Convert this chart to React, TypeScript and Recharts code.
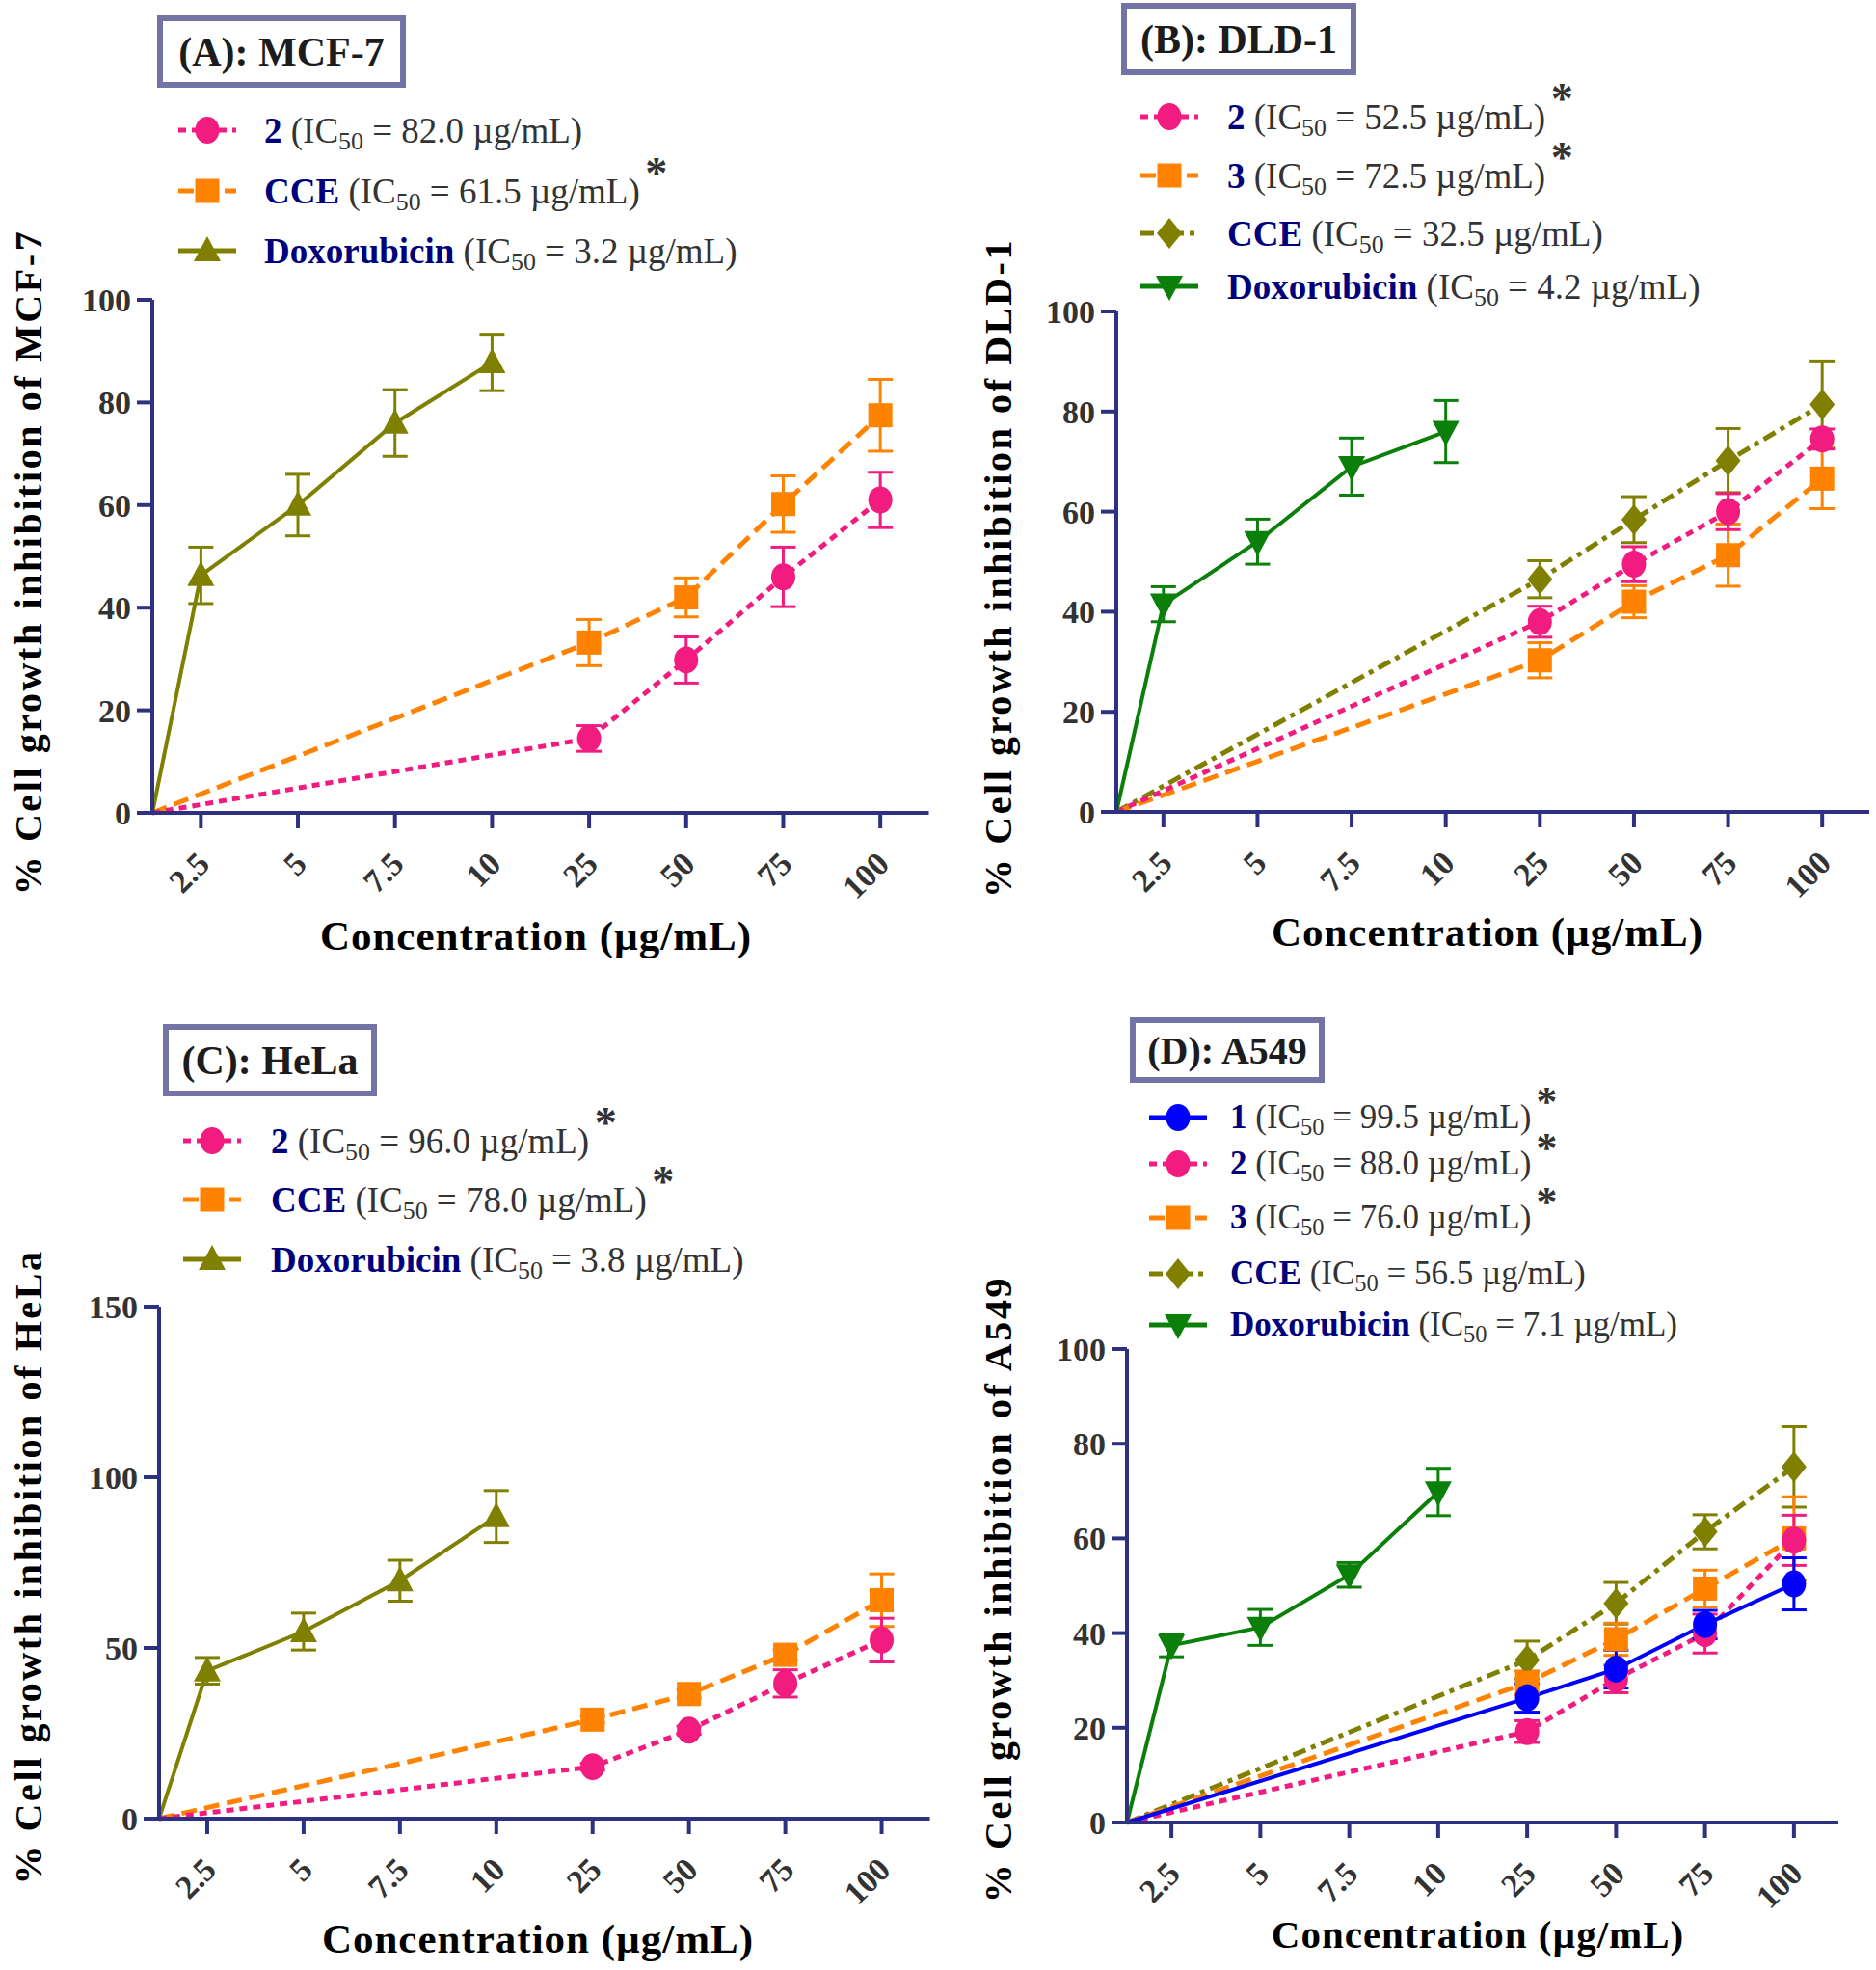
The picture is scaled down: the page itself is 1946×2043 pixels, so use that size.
import { ErrorBar, Line, LineChart, XAxis, YAxis } from "recharts"

// concentration categories (µg/mL), drawn at index positions 1..8
const concLabels = ["2.5", "5", "7.5", "10", "25", "50", "75", "100"]
const doxDoses = ["2.5", "5", "7.5", "10"]
const testDoses = ["25", "50", "75", "100"]

// (A) MCF-7
const mcfDox = [46.3, 60, 76, 87.8]
const mcfDoxErr = [5.5, 6, 6.5, 5.5]
const mcfCce = [33.2, 42, 60.2, 77.5]
const mcfCceErr = [4.5, 3.8, 5.5, 7]
const mcfCmp2 = [14.5, 29.8, 46, 61]
const mcfCmp2Err = [2.5, 4.5, 5.8, 5.4]

// (B) DLD-1
const dldDox = [41.5, 54, 69, 76]
const dldDoxErr = [3.5, 4.5, 5.7, 6.2]
const dldCce = [46.5, 58.4, 70.2, 81.4]
const dldCceErr = [3.7, 4.6, 6.4, 8.7]
const dldCmp2 = [38, 49.5, 60, 74.5]
const dldCmp2Err = [3.1, 3.5, 3.6, 2]
const dldCmp3 = [30.3, 42, 51.3, 66.6]
const dldCmp3Err = [3.5, 3.2, 6.2, 6]

// (C) HeLa
const helaDox = [43.3, 54.8, 69.7, 88.5]
const helaDoxErr = [3.9, 5.4, 6, 7.6]
const helaCce = [29, 36.5, 48, 64]
const helaCceErr = [1, 1.2, 1.5, 7.7]
const helaCmp2 = [15.2, 25.9, 39.6, 52.3]
const helaCmp2Err = [1, 1.2, 4, 6.4]

// (D) A549
const a549Dox = [37.4, 41.2, 52.3, 69.8]
const a549DoxErr = [2.4, 3.8, 2.6, 5]
const a549Cce = [34.3, 46.3, 61.4, 75.1]
const a549CceErr = [4, 4.4, 3.6, 8.5]
const a549Cmp3 = [29.5, 38.7, 49.4, 60]
const a549Cmp3Err = [2.5, 3.4, 3.9, 8.8]
const a549Cmp2 = [19.2, 30.3, 39.9, 59.6]
const a549Cmp2Err = [2.3, 2.9, 4.1, 5.3]
const a549Cmp1 = [26.3, 32.4, 41.8, 50.4]
const a549Cmp1Err = [3, 4, 3, 5.5]

const yTicks100 = [0, 20, 40, 60, 80, 100]
const yTicks150 = [0, 50, 100, 150]

const SERIF = '"Liberation Serif", "Times New Roman", serif'
const AXIS = "#2d3180"
const TICK = "#333333"
const NAVY = "#00007c"
const PINK = "#f21c80"
const ORANGE = "#ff8200"
const OLIVE = "#808000"
const GREEN = "#0a800a"
const BLUE = "#0000ff"

const DOTTED = "8 6"
const DASHED = "16 8"
const DASHDOT = "14 6 5 6"

type Shape = "circle" | "square" | "triangle" | "triangleDown" | "diamond"

interface Series {
  name: string
  ic50: string
  star?: boolean
  color: string
  dash?: string
  shape: Shape
  doses: string[]
  values: number[]
  errors: number[]
}

function toPoints(doses: string[], values: number[], errors: number[]) {
  // every curve starts at the origin of the axes
  return [
    { x: 0.5, y: 0, e: 0 },
    ...doses.map((d, i) => ({ x: concLabels.indexOf(d) + 1, y: values[i], e: errors[i] })),
  ]
}

function Marker({ shape, cx, cy, color, s = 1 }: { shape: Shape; cx: number; cy: number; color: string; s?: number }) {
  if (shape === "circle") return <ellipse cx={cx} cy={cy} rx={12.5 * s} ry={14 * s} fill={color} />
  if (shape === "square")
    return <rect x={cx - 12.5 * s} y={cy - 12.5 * s} width={25 * s} height={25 * s} fill={color} />
  if (shape === "triangle")
    return (
      <polygon
        points={`${cx},${cy - 15 * s} ${cx + 14 * s},${cy + 11 * s} ${cx - 14 * s},${cy + 11 * s}`}
        fill={color}
      />
    )
  if (shape === "triangleDown")
    return (
      <polygon
        points={`${cx - 14 * s},${cy - 11 * s} ${cx + 14 * s},${cy - 11 * s} ${cx},${cy + 15 * s}`}
        fill={color}
      />
    )
  return (
    <polygon
      points={`${cx},${cy - 16 * s} ${cx + 13 * s},${cy} ${cx},${cy + 16 * s} ${cx - 13 * s},${cy}`}
      fill={color}
    />
  )
}

const XTick = (props: any) => {
  const { x, y, payload } = props
  return (
    <text
      x={0}
      y={0}
      transform={`translate(${x + 11},${y + 37}) rotate(-45)`}
      textAnchor="end"
      fill={TICK}
      fontSize={34}
      fontWeight="bold"
      fontFamily={SERIF}
    >
      {concLabels[payload.value - 1]}
    </text>
  )
}

function LegendRow({ s, left, cy, fontSize, textLeft }: { s: Series; left: number; cy: number; fontSize: number; textLeft: number }) {
  return (
    <div
      style={{
        position: "absolute",
        left,
        top: cy - 20,
        height: 40,
        display: "flex",
        alignItems: "center",
        whiteSpace: "nowrap",
        fontFamily: SERIF,
        fontSize,
      }}
    >
      <svg width={60} height={40} style={{ flex: "none" }}>
        <line x1={0} y1={20} x2={60} y2={20} stroke={s.color} strokeWidth={5} strokeDasharray={s.dash} />
        <Marker shape={s.shape} cx={30} cy={20} color={s.color} s={1} />
      </svg>
      <span style={{ marginLeft: textLeft - left - 60, position: "relative" }}>
        <b style={{ color: NAVY }}>{s.name}</b>
        <span style={{ color: TICK }}>
          {" "}
          (IC<span style={{ fontSize: "0.7em", position: "relative", top: "0.3em" }}>50</span> = {s.ic50} µg/mL)
        </span>
        {s.star && (
          <span
            style={{
              position: "absolute",
              right: "-0.62em",
              top: "-0.42em",
              fontSize: "1.25em",
              fontWeight: "bold",
              color: TICK,
              lineHeight: 1,
            }}
          >
            *
          </span>
        )}
      </span>
    </div>
  )
}

interface PanelProps {
  title: string
  box: { x: number; y: number; w: number; h: number; font: number }
  plot: { l: number; r: number; t: number; b: number }
  yMax: number
  yTicks: number[]
  yLabel: string
  yLabelPos: { x: number; y: number }
  xLabelPos: { x: number; y: number; font: number }
  legend: { left: number; textLeft: number; rows: number[]; font: number }
  series: Series[]
  drawOrder: number[]
}

const YW = 120
const MT = 20
const MR = 6
const XH = 110

function Panel(p: PanelProps) {
  const width = p.plot.r - p.plot.l + YW + MR
  const height = p.plot.b - p.plot.t + MT + XH
  return (
    <>
      <div
        style={{
          position: "absolute",
          left: p.box.x,
          top: p.box.y,
          width: p.box.w,
          height: p.box.h,
          boxSizing: "border-box",
          border: "6px solid #7373a6",
          display: "flex",
          alignItems: "center",
          justifyContent: "center",
          fontFamily: SERIF,
          fontWeight: "bold",
          fontSize: p.box.font,
          color: "#1c1c1c",
          whiteSpace: "nowrap",
        }}
      >
        {p.title}
      </div>
      {p.series.map((s, i) => (
        <LegendRow key={s.name} s={s} left={p.legend.left} cy={p.legend.rows[i]} fontSize={p.legend.font} textLeft={p.legend.textLeft} />
      ))}
      <div
        style={{
          position: "absolute",
          left: p.yLabelPos.x,
          top: p.yLabelPos.y,
          transform: "translate(-50%, -50%) rotate(-90deg)",
          fontFamily: SERIF,
          fontWeight: "bold",
          fontSize: 40,
          letterSpacing: 2.6,
          whiteSpace: "nowrap",
          color: "#000",
        }}
      >
        {p.yLabel}
      </div>
      <div
        style={{
          position: "absolute",
          left: p.xLabelPos.x,
          top: p.xLabelPos.y,
          transform: "translate(-50%, -50%)",
          fontFamily: SERIF,
          fontWeight: "bold",
          fontSize: p.xLabelPos.font,
          letterSpacing: 1,
          whiteSpace: "nowrap",
          color: "#000",
        }}
      >
        Concentration (µg/mL)
      </div>
      <div style={{ position: "absolute", left: p.plot.l - YW, top: p.plot.t - MT }}>
        <LineChart width={width} height={height} margin={{ top: MT, right: MR, left: 0, bottom: 0 }}>
          <XAxis
            type="number"
            dataKey="x"
            domain={[0.5, 8.5]}
            ticks={[1, 2, 3, 4, 5, 6, 7, 8]}
            interval={0}
            height={XH}
            tickSize={16}
            axisLine={{ stroke: AXIS, strokeWidth: 4 }}
            tickLine={{ stroke: AXIS, strokeWidth: 4 }}
            tick={<XTick />}
          />
          <YAxis
            type="number"
            domain={[0, p.yMax]}
            ticks={p.yTicks}
            interval={0}
            width={YW}
            tickSize={16}
            tickMargin={6}
            axisLine={{ stroke: AXIS, strokeWidth: 4 }}
            tickLine={{ stroke: AXIS, strokeWidth: 4 }}
            tick={{ fill: TICK, fontSize: 34, fontWeight: 700, fontFamily: SERIF }}
          />
          {p.drawOrder.map((idx) => {
            const s = p.series[idx]
            return (
              <Line
                key={s.name}
                data={toPoints(s.doses, s.values, s.errors)}
                dataKey="y"
                stroke={s.color}
                strokeWidth={s.dash ? 5 : 4}
                strokeDasharray={s.dash}
                isAnimationActive={false}
                dot={(d: any) =>
                  d.payload.x < 1 ? (
                    <g key={`o-${d.index}`} />
                  ) : (
                    <Marker key={`m-${d.index}`} shape={s.shape} cx={d.cx} cy={d.cy} color={s.color} />
                  )
                }
                activeDot={false}
              >
                <ErrorBar dataKey="e" direction="y" width={13} strokeWidth={3} stroke={s.color} />
              </Line>
            )
          })}
        </LineChart>
      </div>
    </>
  )
}

const panels: PanelProps[] = [
  {
    title: "(A): MCF-7",
    box: { x: 163, y: 16, w: 258, h: 75, font: 42 },
    plot: { l: 157.5, r: 963, t: 311, b: 843 },
    yMax: 100,
    yTicks: yTicks100,
    yLabel: "% Cell growth inhibition of MCF-7",
    yLabelPos: { x: 29, y: 583 },
    xLabelPos: { x: 556, y: 970, font: 43 },
    legend: { left: 185, textLeft: 274, rows: [135, 198, 260], font: 37 },
    series: [
      { name: "2", ic50: "82.0", color: PINK, dash: DOTTED, shape: "circle", doses: testDoses, values: mcfCmp2, errors: mcfCmp2Err },
      { name: "CCE", ic50: "61.5", star: true, color: ORANGE, dash: DASHED, shape: "square", doses: testDoses, values: mcfCce, errors: mcfCceErr },
      { name: "Doxorubicin", ic50: "3.2", color: OLIVE, shape: "triangle", doses: doxDoses, values: mcfDox, errors: mcfDoxErr },
    ],
    drawOrder: [1, 0, 2],
  },
  {
    title: "(B): DLD-1",
    box: { x: 1163, y: 3, w: 244, h: 75, font: 42 },
    plot: { l: 1158, r: 1939, t: 323, b: 842 },
    yMax: 100,
    yTicks: yTicks100,
    yLabel: "% Cell growth inhibition of DLD-1",
    yLabelPos: { x: 1035, y: 589 },
    xLabelPos: { x: 1543, y: 966, font: 43 },
    legend: { left: 1183, textLeft: 1273, rows: [121, 182, 242, 297], font: 37 },
    series: [
      { name: "2", ic50: "52.5", star: true, color: PINK, dash: DOTTED, shape: "circle", doses: testDoses, values: dldCmp2, errors: dldCmp2Err },
      { name: "3", ic50: "72.5", star: true, color: ORANGE, dash: DASHED, shape: "square", doses: testDoses, values: dldCmp3, errors: dldCmp3Err },
      { name: "CCE", ic50: "32.5", color: OLIVE, dash: DASHDOT, shape: "diamond", doses: testDoses, values: dldCce, errors: dldCceErr },
      { name: "Doxorubicin", ic50: "4.2", color: GREEN, shape: "triangleDown", doses: doxDoses, values: dldDox, errors: dldDoxErr },
    ],
    drawOrder: [2, 1, 0, 3],
  },
  {
    title: "(C): HeLa",
    box: { x: 169, y: 1062, w: 222, h: 75, font: 42 },
    plot: { l: 164.5, r: 964, t: 1355, b: 1886 },
    yMax: 150,
    yTicks: yTicks150,
    yLabel: "% Cell growth inhibition of HeLa",
    yLabelPos: { x: 29, y: 1625 },
    xLabelPos: { x: 558, y: 2010, font: 43 },
    legend: { left: 190, textLeft: 281, rows: [1183, 1244, 1306], font: 37 },
    series: [
      { name: "2", ic50: "96.0", star: true, color: PINK, dash: DOTTED, shape: "circle", doses: testDoses, values: helaCmp2, errors: helaCmp2Err },
      { name: "CCE", ic50: "78.0", star: true, color: ORANGE, dash: DASHED, shape: "square", doses: testDoses, values: helaCce, errors: helaCceErr },
      { name: "Doxorubicin", ic50: "3.8", color: OLIVE, shape: "triangle", doses: doxDoses, values: helaDox, errors: helaDoxErr },
    ],
    drawOrder: [1, 0, 2],
  },
  {
    title: "(D): A549",
    box: { x: 1172, y: 1055, w: 202, h: 68, font: 40 },
    plot: { l: 1169, r: 1907, t: 1399, b: 1890 },
    yMax: 100,
    yTicks: yTicks100,
    yLabel: "% Cell growth inhibition of A549",
    yLabelPos: { x: 1035, y: 1648 },
    xLabelPos: { x: 1533, y: 2006, font: 41 },
    legend: { left: 1192, textLeft: 1276, rows: [1159, 1207, 1263, 1321, 1374], font: 35 },
    series: [
      { name: "1", ic50: "99.5", star: true, color: BLUE, shape: "circle", doses: testDoses, values: a549Cmp1, errors: a549Cmp1Err },
      { name: "2", ic50: "88.0", star: true, color: PINK, dash: DOTTED, shape: "circle", doses: testDoses, values: a549Cmp2, errors: a549Cmp2Err },
      { name: "3", ic50: "76.0", star: true, color: ORANGE, dash: DASHED, shape: "square", doses: testDoses, values: a549Cmp3, errors: a549Cmp3Err },
      { name: "CCE", ic50: "56.5", color: OLIVE, dash: DASHDOT, shape: "diamond", doses: testDoses, values: a549Cce, errors: a549CceErr },
      { name: "Doxorubicin", ic50: "7.1", color: GREEN, shape: "triangleDown", doses: doxDoses, values: a549Dox, errors: a549DoxErr },
    ],
    drawOrder: [3, 2, 1, 0, 4],
  },
]

export default function App() {
  return (
    <div
      style={{
        position: "absolute",
        left: 0,
        top: 0,
        width: 1946,
        height: 2043,
        background: "#fff",
        overflow: "hidden",
      }}
    >
      {panels.map((p) => (
        <Panel key={p.title} {...p} />
      ))}
    </div>
  )
}
